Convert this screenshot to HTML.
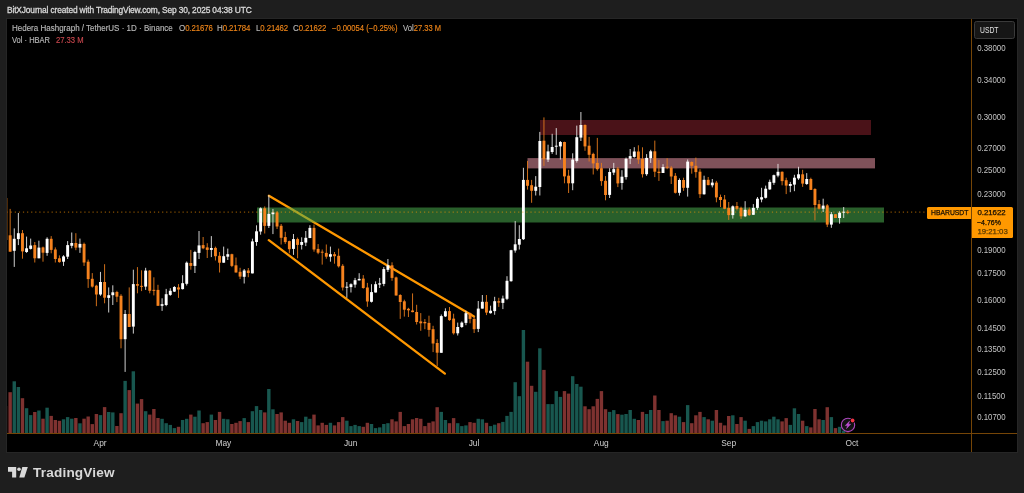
<!DOCTYPE html>
<html><head><meta charset="utf-8"><title>HBARUSDT</title>
<style>
html,body{margin:0;padding:0;}
body{width:1024px;height:493px;background:#1e1e1e;overflow:hidden;position:relative;font-family:"Liberation Sans",sans-serif;}
#hdr{will-change:transform;position:absolute;left:6.5px;top:5.1px;font-size:8.4px;line-height:11px;color:#d8d8d8;white-space:nowrap;letter-spacing:-0.14px;-webkit-text-stroke:0.3px #d8d8d8;}
#pane{will-change:transform;outline:1px solid #262626;position:absolute;left:7px;top:19px;width:1010px;height:433px;background:#000;overflow:hidden;}
#pane svg{position:absolute;left:0;top:0;}
.lg{position:absolute;font-size:8.5px;line-height:10px;white-space:nowrap;color:#b8b8b8;transform-origin:0 50%;-webkit-text-stroke:0.15px currentColor;}
.sx{display:inline-block;transform-origin:0 50%;text-indent:0;}
.lg b{font-weight:normal;color:#ee8519;font-size:8.29px;}
.lg i{font-style:normal;color:#c8474d;}
.pl{position:absolute;left:964px;width:35px;font-size:8.6px;transform:scaleX(0.915);transform-origin:6.2px 50%;line-height:12px;height:12px;color:#c4c4c4;white-space:nowrap;text-indent:6.2px;}
.ml{position:absolute;top:418px;width:30px;text-align:center;font-size:8.4px;line-height:12px;color:#cfcfcf;}
#vax{position:absolute;left:964px;top:0;width:1px;height:433px;background:#754507;}
#hax{position:absolute;left:0;top:414.2px;width:1010px;height:1px;background:#754507;}
#usdt{position:absolute;left:967.3px;top:1.5px;width:40.7px;height:18px;border:1px solid #3a3a3a;border-radius:2.5px;background:#161616;color:#e2e2e2;font-size:8.2px;line-height:17.3px;text-indent:4.7px;box-sizing:border-box;}
#sym{position:absolute;left:920.2px;top:188px;width:44.3px;height:11.5px;background:#ff9800;color:#140c00;-webkit-text-stroke:0.25px #140c00;font-size:7.9px;line-height:11.6px;text-indent:3.5px;border-radius:1.5px 0 0 1.5px;white-space:nowrap;}
#prc{position:absolute;left:964.5px;top:188px;width:41.1px;height:30.5px;background:#ff9800;color:#140c00;-webkit-text-stroke:0.25px currentColor;font-size:7.8px;line-height:9.55px;border-radius:0 1.5px 1.5px 0;box-sizing:border-box;padding:1.1px 0 0 5.9px;white-space:nowrap;}
#prc span{display:block;}
#prc .t{color:#5a3a00;}
#logo{position:absolute;left:8px;top:467px;}
#ltxt{will-change:transform;position:absolute;left:33.3px;top:463.6px;font-size:13.6px;line-height:17px;font-weight:bold;color:#d9d9d9;letter-spacing:0.18px;white-space:nowrap;}
</style></head><body>
<div id="hdr">BitXJournal created with TradingView.com, Sep 30, 2025 04:38 UTC</div>
<div id="pane">
<svg width="1010" height="433" viewBox="0 0 1010 433">
<line x1="261.9" y1="176.8" x2="467" y2="297.5" stroke="#ff9800" stroke-width="2.3" stroke-linecap="round"/>
<line x1="261.8" y1="221.1" x2="437.9" y2="354.6" stroke="#ff9800" stroke-width="2.3" stroke-linecap="round"/>
<rect x="533" y="101" width="331" height="15" fill="#4a1218"/>
<rect x="520.5" y="139.1" width="347.5" height="10.3" fill="#80525a"/>
<rect x="250" y="188.5" width="627" height="15" fill="#4caf50" fill-opacity="0.54"/>
<rect x="1.45" y="373.2" width="3.4" height="41.1" fill="#7e3230"/>
<rect x="5.56" y="362.3" width="3.4" height="52" fill="#18574f"/>
<rect x="9.66" y="368" width="3.4" height="46.3" fill="#18574f"/>
<rect x="13.77" y="379.2" width="3.4" height="35.1" fill="#7e3230"/>
<rect x="17.87" y="389.2" width="3.4" height="25.1" fill="#18574f"/>
<rect x="21.98" y="396.1" width="3.4" height="18.2" fill="#18574f"/>
<rect x="26.09" y="393" width="3.4" height="21.3" fill="#7e3230"/>
<rect x="30.19" y="391.5" width="3.4" height="22.8" fill="#18574f"/>
<rect x="34.3" y="399.7" width="3.4" height="14.6" fill="#7e3230"/>
<rect x="38.4" y="388.7" width="3.4" height="25.6" fill="#18574f"/>
<rect x="42.51" y="396.9" width="3.4" height="17.4" fill="#7e3230"/>
<rect x="46.62" y="401" width="3.4" height="13.3" fill="#7e3230"/>
<rect x="50.72" y="401.8" width="3.4" height="12.5" fill="#7e3230"/>
<rect x="54.83" y="400.3" width="3.4" height="14" fill="#18574f"/>
<rect x="58.94" y="398.1" width="3.4" height="16.2" fill="#18574f"/>
<rect x="63.04" y="399.7" width="3.4" height="14.6" fill="#18574f"/>
<rect x="67.15" y="399" width="3.4" height="15.3" fill="#7e3230"/>
<rect x="71.25" y="404.3" width="3.4" height="10" fill="#18574f"/>
<rect x="75.36" y="399.7" width="3.4" height="14.6" fill="#7e3230"/>
<rect x="79.47" y="397.5" width="3.4" height="16.8" fill="#7e3230"/>
<rect x="83.57" y="405.1" width="3.4" height="9.2" fill="#7e3230"/>
<rect x="87.68" y="395" width="3.4" height="19.3" fill="#7e3230"/>
<rect x="91.78" y="396.1" width="3.4" height="18.2" fill="#18574f"/>
<rect x="95.89" y="388.1" width="3.4" height="26.2" fill="#7e3230"/>
<rect x="100" y="393" width="3.4" height="21.3" fill="#18574f"/>
<rect x="104.1" y="393.4" width="3.4" height="20.9" fill="#18574f"/>
<rect x="108.21" y="407" width="3.4" height="7.3" fill="#7e3230"/>
<rect x="112.31" y="394.2" width="3.4" height="20.1" fill="#7e3230"/>
<rect x="116.42" y="361.9" width="3.4" height="52.4" fill="#18574f"/>
<rect x="120.53" y="371.1" width="3.4" height="43.2" fill="#7e3230"/>
<rect x="124.63" y="352.3" width="3.4" height="62" fill="#18574f"/>
<rect x="128.74" y="384.6" width="3.4" height="29.7" fill="#7e3230"/>
<rect x="132.85" y="380.1" width="3.4" height="34.2" fill="#7e3230"/>
<rect x="136.95" y="392.2" width="3.4" height="22.1" fill="#18574f"/>
<rect x="141.06" y="395.6" width="3.4" height="18.7" fill="#7e3230"/>
<rect x="145.16" y="390" width="3.4" height="24.3" fill="#7e3230"/>
<rect x="149.27" y="399" width="3.4" height="15.3" fill="#7e3230"/>
<rect x="153.38" y="399.8" width="3.4" height="14.5" fill="#18574f"/>
<rect x="157.48" y="404.2" width="3.4" height="10.1" fill="#18574f"/>
<rect x="161.59" y="405.9" width="3.4" height="8.4" fill="#18574f"/>
<rect x="165.69" y="409.1" width="3.4" height="5.2" fill="#18574f"/>
<rect x="169.8" y="407.8" width="3.4" height="6.5" fill="#7e3230"/>
<rect x="173.91" y="401" width="3.4" height="13.3" fill="#18574f"/>
<rect x="178.01" y="399.8" width="3.4" height="14.5" fill="#18574f"/>
<rect x="182.12" y="395.6" width="3.4" height="18.7" fill="#7e3230"/>
<rect x="186.22" y="397.7" width="3.4" height="16.6" fill="#18574f"/>
<rect x="190.33" y="391.5" width="3.4" height="22.8" fill="#18574f"/>
<rect x="194.44" y="404.2" width="3.4" height="10.1" fill="#7e3230"/>
<rect x="198.54" y="403.1" width="3.4" height="11.2" fill="#7e3230"/>
<rect x="202.65" y="395.6" width="3.4" height="18.7" fill="#18574f"/>
<rect x="206.75" y="401" width="3.4" height="13.3" fill="#7e3230"/>
<rect x="210.86" y="392.9" width="3.4" height="21.4" fill="#7e3230"/>
<rect x="214.97" y="399.8" width="3.4" height="14.5" fill="#18574f"/>
<rect x="219.07" y="400.3" width="3.4" height="14" fill="#18574f"/>
<rect x="223.18" y="405" width="3.4" height="9.3" fill="#7e3230"/>
<rect x="227.29" y="403.8" width="3.4" height="10.5" fill="#7e3230"/>
<rect x="231.39" y="402.1" width="3.4" height="12.2" fill="#7e3230"/>
<rect x="235.5" y="399.1" width="3.4" height="15.2" fill="#18574f"/>
<rect x="239.6" y="403.1" width="3.4" height="11.2" fill="#7e3230"/>
<rect x="243.71" y="392.2" width="3.4" height="22.1" fill="#18574f"/>
<rect x="247.82" y="387.1" width="3.4" height="27.2" fill="#18574f"/>
<rect x="251.92" y="391" width="3.4" height="23.3" fill="#18574f"/>
<rect x="256.03" y="393.4" width="3.4" height="20.9" fill="#7e3230"/>
<rect x="260.13" y="370" width="3.4" height="44.3" fill="#18574f"/>
<rect x="264.24" y="390.3" width="3.4" height="24" fill="#18574f"/>
<rect x="268.35" y="395" width="3.4" height="19.3" fill="#7e3230"/>
<rect x="272.45" y="393.4" width="3.4" height="20.9" fill="#7e3230"/>
<rect x="276.56" y="401.7" width="3.4" height="12.6" fill="#7e3230"/>
<rect x="280.66" y="403.8" width="3.4" height="10.5" fill="#7e3230"/>
<rect x="284.77" y="400.3" width="3.4" height="14" fill="#18574f"/>
<rect x="288.88" y="402" width="3.4" height="12.3" fill="#7e3230"/>
<rect x="292.98" y="403.1" width="3.4" height="11.2" fill="#18574f"/>
<rect x="297.09" y="397.7" width="3.4" height="16.6" fill="#18574f"/>
<rect x="301.2" y="399.8" width="3.4" height="14.5" fill="#18574f"/>
<rect x="305.3" y="395.6" width="3.4" height="18.7" fill="#7e3230"/>
<rect x="309.41" y="406.4" width="3.4" height="7.9" fill="#7e3230"/>
<rect x="313.51" y="403.8" width="3.4" height="10.5" fill="#7e3230"/>
<rect x="317.62" y="405.9" width="3.4" height="8.4" fill="#7e3230"/>
<rect x="321.73" y="403.8" width="3.4" height="10.5" fill="#18574f"/>
<rect x="325.83" y="406.4" width="3.4" height="7.9" fill="#7e3230"/>
<rect x="329.94" y="403.1" width="3.4" height="11.2" fill="#7e3230"/>
<rect x="334.04" y="398.1" width="3.4" height="16.2" fill="#7e3230"/>
<rect x="338.15" y="401.7" width="3.4" height="12.6" fill="#18574f"/>
<rect x="342.26" y="407.1" width="3.4" height="7.2" fill="#18574f"/>
<rect x="346.36" y="405.9" width="3.4" height="8.4" fill="#18574f"/>
<rect x="350.47" y="407.1" width="3.4" height="7.2" fill="#18574f"/>
<rect x="354.57" y="407.8" width="3.4" height="6.5" fill="#7e3230"/>
<rect x="358.68" y="403.8" width="3.4" height="10.5" fill="#7e3230"/>
<rect x="362.79" y="405" width="3.4" height="9.3" fill="#18574f"/>
<rect x="366.89" y="409.1" width="3.4" height="5.2" fill="#18574f"/>
<rect x="371" y="408.4" width="3.4" height="5.9" fill="#18574f"/>
<rect x="375.11" y="405" width="3.4" height="9.3" fill="#18574f"/>
<rect x="379.21" y="404.2" width="3.4" height="10.1" fill="#18574f"/>
<rect x="383.32" y="400.3" width="3.4" height="14" fill="#7e3230"/>
<rect x="387.42" y="402.4" width="3.4" height="11.9" fill="#7e3230"/>
<rect x="391.53" y="392.9" width="3.4" height="21.4" fill="#7e3230"/>
<rect x="395.64" y="407.1" width="3.4" height="7.2" fill="#7e3230"/>
<rect x="399.74" y="405" width="3.4" height="9.3" fill="#7e3230"/>
<rect x="403.85" y="400.3" width="3.4" height="14" fill="#7e3230"/>
<rect x="407.95" y="399" width="3.4" height="15.3" fill="#7e3230"/>
<rect x="412.06" y="399.8" width="3.4" height="14.5" fill="#7e3230"/>
<rect x="416.17" y="407.1" width="3.4" height="7.2" fill="#7e3230"/>
<rect x="420.27" y="403.8" width="3.4" height="10.5" fill="#7e3230"/>
<rect x="424.38" y="402.4" width="3.4" height="11.9" fill="#7e3230"/>
<rect x="428.48" y="388.2" width="3.4" height="26.1" fill="#7e3230"/>
<rect x="432.59" y="392.9" width="3.4" height="21.4" fill="#18574f"/>
<rect x="436.7" y="401" width="3.4" height="13.3" fill="#18574f"/>
<rect x="440.8" y="404.2" width="3.4" height="10.1" fill="#7e3230"/>
<rect x="444.91" y="399.1" width="3.4" height="15.2" fill="#7e3230"/>
<rect x="449.01" y="404.2" width="3.4" height="10.1" fill="#18574f"/>
<rect x="453.12" y="407.1" width="3.4" height="7.2" fill="#18574f"/>
<rect x="457.23" y="406.4" width="3.4" height="7.9" fill="#18574f"/>
<rect x="461.33" y="403.1" width="3.4" height="11.2" fill="#7e3230"/>
<rect x="465.44" y="403.8" width="3.4" height="10.5" fill="#7e3230"/>
<rect x="469.55" y="399.8" width="3.4" height="14.5" fill="#18574f"/>
<rect x="473.65" y="400.3" width="3.4" height="14" fill="#18574f"/>
<rect x="477.76" y="403.8" width="3.4" height="10.5" fill="#7e3230"/>
<rect x="481.86" y="407.1" width="3.4" height="7.2" fill="#18574f"/>
<rect x="485.97" y="405.7" width="3.4" height="8.6" fill="#18574f"/>
<rect x="490.08" y="404.2" width="3.4" height="10.1" fill="#7e3230"/>
<rect x="494.18" y="402.9" width="3.4" height="11.4" fill="#18574f"/>
<rect x="498.29" y="396.9" width="3.4" height="17.4" fill="#18574f"/>
<rect x="502.39" y="392.9" width="3.4" height="21.4" fill="#18574f"/>
<rect x="506.5" y="363.2" width="3.4" height="51.1" fill="#18574f"/>
<rect x="510.61" y="377.2" width="3.4" height="37.1" fill="#18574f"/>
<rect x="514.71" y="311" width="3.4" height="103.3" fill="#18574f"/>
<rect x="518.82" y="342.7" width="3.4" height="71.6" fill="#7e3230"/>
<rect x="522.92" y="366.8" width="3.4" height="47.5" fill="#7e3230"/>
<rect x="527.03" y="372.8" width="3.4" height="41.5" fill="#18574f"/>
<rect x="531.14" y="329.3" width="3.4" height="85" fill="#18574f"/>
<rect x="535.24" y="350.9" width="3.4" height="63.4" fill="#7e3230"/>
<rect x="539.35" y="385.1" width="3.4" height="29.2" fill="#18574f"/>
<rect x="543.46" y="385.1" width="3.4" height="29.2" fill="#18574f"/>
<rect x="547.56" y="372.1" width="3.4" height="42.2" fill="#18574f"/>
<rect x="551.67" y="377.9" width="3.4" height="36.4" fill="#18574f"/>
<rect x="555.77" y="372.1" width="3.4" height="42.2" fill="#7e3230"/>
<rect x="559.88" y="374.6" width="3.4" height="39.7" fill="#7e3230"/>
<rect x="563.99" y="357.2" width="3.4" height="57.1" fill="#18574f"/>
<rect x="568.09" y="365" width="3.4" height="49.3" fill="#18574f"/>
<rect x="572.2" y="367.7" width="3.4" height="46.6" fill="#18574f"/>
<rect x="576.3" y="387.3" width="3.4" height="27" fill="#7e3230"/>
<rect x="580.41" y="390.2" width="3.4" height="24.1" fill="#7e3230"/>
<rect x="584.52" y="387.3" width="3.4" height="27" fill="#7e3230"/>
<rect x="588.62" y="379.9" width="3.4" height="34.4" fill="#7e3230"/>
<rect x="592.73" y="372.1" width="3.4" height="42.2" fill="#7e3230"/>
<rect x="596.83" y="390.2" width="3.4" height="24.1" fill="#7e3230"/>
<rect x="600.94" y="392.9" width="3.4" height="21.4" fill="#18574f"/>
<rect x="605.05" y="391.1" width="3.4" height="23.2" fill="#18574f"/>
<rect x="609.15" y="395.1" width="3.4" height="19.2" fill="#7e3230"/>
<rect x="613.26" y="395.7" width="3.4" height="18.6" fill="#18574f"/>
<rect x="617.36" y="395" width="3.4" height="19.3" fill="#18574f"/>
<rect x="621.47" y="391" width="3.4" height="23.3" fill="#18574f"/>
<rect x="625.58" y="399.8" width="3.4" height="14.5" fill="#18574f"/>
<rect x="629.68" y="401" width="3.4" height="13.3" fill="#7e3230"/>
<rect x="633.79" y="392.9" width="3.4" height="21.4" fill="#7e3230"/>
<rect x="637.9" y="395" width="3.4" height="19.3" fill="#18574f"/>
<rect x="642" y="391" width="3.4" height="23.3" fill="#18574f"/>
<rect x="646.11" y="376.5" width="3.4" height="37.8" fill="#7e3230"/>
<rect x="650.21" y="391" width="3.4" height="23.3" fill="#7e3230"/>
<rect x="654.32" y="402.1" width="3.4" height="12.2" fill="#18574f"/>
<rect x="658.43" y="401.7" width="3.4" height="12.6" fill="#7e3230"/>
<rect x="662.53" y="394.2" width="3.4" height="20.1" fill="#7e3230"/>
<rect x="666.64" y="396.3" width="3.4" height="18" fill="#7e3230"/>
<rect x="670.74" y="397.7" width="3.4" height="16.6" fill="#18574f"/>
<rect x="674.85" y="403.1" width="3.4" height="11.2" fill="#7e3230"/>
<rect x="678.96" y="386.1" width="3.4" height="28.2" fill="#18574f"/>
<rect x="683.06" y="404.2" width="3.4" height="10.1" fill="#7e3230"/>
<rect x="687.17" y="396.3" width="3.4" height="18" fill="#7e3230"/>
<rect x="691.27" y="392.9" width="3.4" height="21.4" fill="#7e3230"/>
<rect x="695.38" y="398.1" width="3.4" height="16.2" fill="#18574f"/>
<rect x="699.49" y="400.3" width="3.4" height="14" fill="#7e3230"/>
<rect x="703.59" y="401.7" width="3.4" height="12.6" fill="#18574f"/>
<rect x="707.7" y="391" width="3.4" height="23.3" fill="#7e3230"/>
<rect x="711.81" y="403.8" width="3.4" height="10.5" fill="#7e3230"/>
<rect x="715.91" y="406.4" width="3.4" height="7.9" fill="#7e3230"/>
<rect x="720.02" y="397" width="3.4" height="17.3" fill="#7e3230"/>
<rect x="724.12" y="396.3" width="3.4" height="18" fill="#18574f"/>
<rect x="728.23" y="405" width="3.4" height="9.3" fill="#7e3230"/>
<rect x="732.34" y="398.1" width="3.4" height="16.2" fill="#7e3230"/>
<rect x="736.44" y="401.7" width="3.4" height="12.6" fill="#18574f"/>
<rect x="740.55" y="409.9" width="3.4" height="4.4" fill="#7e3230"/>
<rect x="744.65" y="407.1" width="3.4" height="7.2" fill="#18574f"/>
<rect x="748.76" y="403.1" width="3.4" height="11.2" fill="#18574f"/>
<rect x="752.87" y="401.7" width="3.4" height="12.6" fill="#18574f"/>
<rect x="756.97" y="402.4" width="3.4" height="11.9" fill="#18574f"/>
<rect x="761.08" y="400.3" width="3.4" height="14" fill="#18574f"/>
<rect x="765.18" y="397.7" width="3.4" height="16.6" fill="#18574f"/>
<rect x="769.29" y="400.3" width="3.4" height="14" fill="#18574f"/>
<rect x="773.4" y="402.4" width="3.4" height="11.9" fill="#7e3230"/>
<rect x="777.5" y="399.1" width="3.4" height="15.2" fill="#7e3230"/>
<rect x="781.61" y="405.9" width="3.4" height="8.4" fill="#18574f"/>
<rect x="785.72" y="389.3" width="3.4" height="25" fill="#18574f"/>
<rect x="789.82" y="395" width="3.4" height="19.3" fill="#18574f"/>
<rect x="793.93" y="401.7" width="3.4" height="12.6" fill="#7e3230"/>
<rect x="798.03" y="407.1" width="3.4" height="7.2" fill="#18574f"/>
<rect x="802.14" y="408.4" width="3.4" height="5.9" fill="#7e3230"/>
<rect x="806.25" y="390" width="3.4" height="24.3" fill="#7e3230"/>
<rect x="810.35" y="400.3" width="3.4" height="14" fill="#7e3230"/>
<rect x="814.46" y="401" width="3.4" height="13.3" fill="#18574f"/>
<rect x="818.56" y="388.2" width="3.4" height="26.1" fill="#7e3230"/>
<rect x="822.67" y="398.1" width="3.4" height="16.2" fill="#18574f"/>
<rect x="826.78" y="409.1" width="3.4" height="5.2" fill="#7e3230"/>
<rect x="830.88" y="407.8" width="3.4" height="6.5" fill="#18574f"/>
<rect x="834.99" y="411.6" width="3.4" height="2.7" fill="#18574f"/>
<rect x="839.09" y="413.5" width="3.4" height="0.8" fill="#7e3230"/>
<rect x="-3.1" y="387" width="3.4" height="27.3" fill="#7e3230" opacity="0.6"/>
<line x1="3.15" y1="189.9" x2="3.15" y2="232.7" stroke="#e57a1c" stroke-width="0.9"/>
<rect x="1.7" y="216.3" width="2.9" height="16.4" fill="#f5821e"/>
<line x1="7.26" y1="209.4" x2="7.26" y2="247.9" stroke="#e6e6e6" stroke-width="0.9"/>
<rect x="5.81" y="219.8" width="2.9" height="12" fill="#ffffff"/>
<line x1="11.36" y1="194" x2="11.36" y2="226.1" stroke="#e6e6e6" stroke-width="0.9"/>
<rect x="9.91" y="214.2" width="2.9" height="5.9" fill="#ffffff"/>
<line x1="15.47" y1="211" x2="15.47" y2="239.7" stroke="#e57a1c" stroke-width="0.9"/>
<rect x="14.02" y="214.2" width="2.9" height="18.2" fill="#f5821e"/>
<line x1="19.57" y1="217.6" x2="19.57" y2="233.9" stroke="#e6e6e6" stroke-width="0.9"/>
<rect x="18.12" y="229.3" width="2.9" height="3.7" fill="#ffffff"/>
<line x1="23.68" y1="219.6" x2="23.68" y2="230.5" stroke="#e6e6e6" stroke-width="0.9"/>
<rect x="22.23" y="226.5" width="2.9" height="3.4" fill="#ffffff"/>
<line x1="27.79" y1="223" x2="27.79" y2="243.5" stroke="#e57a1c" stroke-width="0.9"/>
<rect x="26.34" y="226.1" width="2.9" height="13.2" fill="#f5821e"/>
<line x1="31.89" y1="221.7" x2="31.89" y2="239.3" stroke="#e6e6e6" stroke-width="0.9"/>
<rect x="30.44" y="228.6" width="2.9" height="10.7" fill="#ffffff"/>
<line x1="36" y1="227.6" x2="36" y2="242.7" stroke="#e57a1c" stroke-width="0.9"/>
<rect x="34.55" y="228.4" width="2.9" height="5.3" fill="#f5821e"/>
<line x1="40.1" y1="218.3" x2="40.1" y2="236.8" stroke="#e6e6e6" stroke-width="0.9"/>
<rect x="38.65" y="219.8" width="2.9" height="14.1" fill="#ffffff"/>
<line x1="44.21" y1="217.1" x2="44.21" y2="234.3" stroke="#e57a1c" stroke-width="0.9"/>
<rect x="42.76" y="219.8" width="2.9" height="11.1" fill="#f5821e"/>
<line x1="48.32" y1="228.4" x2="48.32" y2="243.5" stroke="#e57a1c" stroke-width="0.9"/>
<rect x="46.87" y="230.5" width="2.9" height="9.5" fill="#f5821e"/>
<line x1="52.42" y1="236.4" x2="52.42" y2="243.7" stroke="#e57a1c" stroke-width="0.9"/>
<rect x="50.97" y="239.3" width="2.9" height="3.8" fill="#f5821e"/>
<line x1="56.53" y1="236.2" x2="56.53" y2="246.9" stroke="#e6e6e6" stroke-width="0.9"/>
<rect x="55.08" y="237.4" width="2.9" height="5.3" fill="#ffffff"/>
<line x1="60.64" y1="222.1" x2="60.64" y2="240" stroke="#e6e6e6" stroke-width="0.9"/>
<rect x="59.19" y="226.1" width="2.9" height="11.6" fill="#ffffff"/>
<line x1="64.74" y1="213.5" x2="64.74" y2="229.3" stroke="#e6e6e6" stroke-width="0.9"/>
<rect x="63.29" y="224" width="2.9" height="2.8" fill="#ffffff"/>
<line x1="68.85" y1="214.2" x2="68.85" y2="231.2" stroke="#e57a1c" stroke-width="0.9"/>
<rect x="67.4" y="224" width="2.9" height="4.6" fill="#f5821e"/>
<line x1="72.95" y1="219.6" x2="72.95" y2="233.9" stroke="#e6e6e6" stroke-width="0.9"/>
<rect x="71.5" y="224.9" width="2.9" height="3.7" fill="#ffffff"/>
<line x1="77.06" y1="223.6" x2="77.06" y2="246.9" stroke="#e57a1c" stroke-width="0.9"/>
<rect x="75.61" y="224.9" width="2.9" height="18.6" fill="#f5821e"/>
<line x1="81.17" y1="240.6" x2="81.17" y2="268.9" stroke="#e57a1c" stroke-width="0.9"/>
<rect x="79.72" y="242.7" width="2.9" height="17.4" fill="#f5821e"/>
<line x1="85.27" y1="254.1" x2="85.27" y2="268.6" stroke="#e57a1c" stroke-width="0.9"/>
<rect x="83.82" y="259.8" width="2.9" height="7.8" fill="#f5821e"/>
<line x1="89.38" y1="265.8" x2="89.38" y2="287.2" stroke="#e57a1c" stroke-width="0.9"/>
<rect x="87.93" y="266.7" width="2.9" height="8.8" fill="#f5821e"/>
<line x1="93.48" y1="252.9" x2="93.48" y2="276.8" stroke="#e6e6e6" stroke-width="0.9"/>
<rect x="92.03" y="263" width="2.9" height="12.5" fill="#ffffff"/>
<line x1="97.59" y1="245.2" x2="97.59" y2="284.3" stroke="#e57a1c" stroke-width="0.9"/>
<rect x="96.14" y="263" width="2.9" height="15.7" fill="#f5821e"/>
<line x1="101.7" y1="268.4" x2="101.7" y2="293.5" stroke="#e6e6e6" stroke-width="0.9"/>
<rect x="100.25" y="276.2" width="2.9" height="2.7" fill="#ffffff"/>
<line x1="105.8" y1="266.3" x2="105.8" y2="286" stroke="#e6e6e6" stroke-width="0.9"/>
<rect x="104.35" y="273.3" width="2.9" height="2.9" fill="#ffffff"/>
<line x1="109.91" y1="271.8" x2="109.91" y2="283.1" stroke="#e57a1c" stroke-width="0.9"/>
<rect x="108.46" y="273" width="2.9" height="4.7" fill="#f5821e"/>
<line x1="114.01" y1="275.2" x2="114.01" y2="329.3" stroke="#e57a1c" stroke-width="0.9"/>
<rect x="112.56" y="276.8" width="2.9" height="43.4" fill="#f5821e"/>
<line x1="118.12" y1="291" x2="118.12" y2="352.9" stroke="#e6e6e6" stroke-width="0.9"/>
<rect x="116.67" y="295" width="2.9" height="25.2" fill="#ffffff"/>
<line x1="122.23" y1="268.4" x2="122.23" y2="308" stroke="#e57a1c" stroke-width="0.9"/>
<rect x="120.78" y="295" width="2.9" height="13" fill="#f5821e"/>
<line x1="126.33" y1="250.7" x2="126.33" y2="314.6" stroke="#e6e6e6" stroke-width="0.9"/>
<rect x="124.88" y="265.1" width="2.9" height="42.5" fill="#ffffff"/>
<line x1="130.44" y1="248.1" x2="130.44" y2="274.3" stroke="#e57a1c" stroke-width="0.9"/>
<rect x="128.99" y="265.1" width="2.9" height="1.6" fill="#f5821e"/>
<line x1="134.55" y1="251.3" x2="134.55" y2="272.1" stroke="#e57a1c" stroke-width="0.9"/>
<rect x="133.1" y="266.85" width="2.9" height="1" fill="#f5821e"/>
<line x1="138.65" y1="248.8" x2="138.65" y2="270.9" stroke="#e6e6e6" stroke-width="0.9"/>
<rect x="137.2" y="251.6" width="2.9" height="16" fill="#ffffff"/>
<line x1="142.76" y1="251" x2="142.76" y2="274.3" stroke="#e57a1c" stroke-width="0.9"/>
<rect x="141.31" y="251.6" width="2.9" height="20.2" fill="#f5821e"/>
<line x1="146.86" y1="258.3" x2="146.86" y2="276.4" stroke="#e57a1c" stroke-width="0.9"/>
<rect x="145.41" y="270.85" width="2.9" height="1" fill="#f5821e"/>
<line x1="150.97" y1="265.8" x2="150.97" y2="286.8" stroke="#e57a1c" stroke-width="0.9"/>
<rect x="149.52" y="270.9" width="2.9" height="15.9" fill="#f5821e"/>
<line x1="155.08" y1="279.3" x2="155.08" y2="291.9" stroke="#e6e6e6" stroke-width="0.9"/>
<rect x="153.63" y="285.2" width="2.9" height="1.6" fill="#ffffff"/>
<line x1="159.18" y1="269.9" x2="159.18" y2="287.2" stroke="#e6e6e6" stroke-width="0.9"/>
<rect x="157.73" y="275.2" width="2.9" height="10.8" fill="#ffffff"/>
<line x1="163.29" y1="269.2" x2="163.29" y2="276.8" stroke="#e6e6e6" stroke-width="0.9"/>
<rect x="161.84" y="271.8" width="2.9" height="4.1" fill="#ffffff"/>
<line x1="167.39" y1="267.1" x2="167.39" y2="273" stroke="#e6e6e6" stroke-width="0.9"/>
<rect x="165.94" y="268" width="2.9" height="4.6" fill="#ffffff"/>
<line x1="171.5" y1="265.1" x2="171.5" y2="278.9" stroke="#e57a1c" stroke-width="0.9"/>
<rect x="170.05" y="268.4" width="2.9" height="2.1" fill="#f5821e"/>
<line x1="175.61" y1="256.2" x2="175.61" y2="270.5" stroke="#e6e6e6" stroke-width="0.9"/>
<rect x="174.16" y="264.2" width="2.9" height="5.9" fill="#ffffff"/>
<line x1="179.71" y1="242.5" x2="179.71" y2="266.5" stroke="#e6e6e6" stroke-width="0.9"/>
<rect x="178.26" y="243.7" width="2.9" height="21.1" fill="#ffffff"/>
<line x1="183.82" y1="230.9" x2="183.82" y2="250.7" stroke="#e57a1c" stroke-width="0.9"/>
<rect x="182.37" y="244" width="2.9" height="2.9" fill="#f5821e"/>
<line x1="187.92" y1="231.8" x2="187.92" y2="254" stroke="#e6e6e6" stroke-width="0.9"/>
<rect x="186.47" y="233" width="2.9" height="13.9" fill="#ffffff"/>
<line x1="192.03" y1="212" x2="192.03" y2="240" stroke="#e6e6e6" stroke-width="0.9"/>
<rect x="190.58" y="226.4" width="2.9" height="7.5" fill="#ffffff"/>
<line x1="196.14" y1="218" x2="196.14" y2="230.2" stroke="#e57a1c" stroke-width="0.9"/>
<rect x="194.69" y="226.1" width="2.9" height="3.2" fill="#f5821e"/>
<line x1="200.24" y1="224.2" x2="200.24" y2="239" stroke="#e57a1c" stroke-width="0.9"/>
<rect x="198.79" y="228.4" width="2.9" height="2.5" fill="#f5821e"/>
<line x1="204.35" y1="217.1" x2="204.35" y2="238.1" stroke="#e6e6e6" stroke-width="0.9"/>
<rect x="202.9" y="229" width="2.9" height="1.9" fill="#ffffff"/>
<line x1="208.45" y1="227.6" x2="208.45" y2="241.5" stroke="#e57a1c" stroke-width="0.9"/>
<rect x="207" y="228.9" width="2.9" height="8.3" fill="#f5821e"/>
<line x1="212.56" y1="233" x2="212.56" y2="253.5" stroke="#e57a1c" stroke-width="0.9"/>
<rect x="211.11" y="236.8" width="2.9" height="6.9" fill="#f5821e"/>
<line x1="216.67" y1="227.6" x2="216.67" y2="243.7" stroke="#e6e6e6" stroke-width="0.9"/>
<rect x="215.22" y="237.2" width="2.9" height="6.5" fill="#ffffff"/>
<line x1="220.77" y1="229.6" x2="220.77" y2="241" stroke="#e6e6e6" stroke-width="0.9"/>
<rect x="219.32" y="235.2" width="2.9" height="2.5" fill="#ffffff"/>
<line x1="224.88" y1="234.7" x2="224.88" y2="248.1" stroke="#e57a1c" stroke-width="0.9"/>
<rect x="223.43" y="235.2" width="2.9" height="11.7" fill="#f5821e"/>
<line x1="228.99" y1="238.5" x2="228.99" y2="253.5" stroke="#e57a1c" stroke-width="0.9"/>
<rect x="227.54" y="246.3" width="2.9" height="7.2" fill="#f5821e"/>
<line x1="233.09" y1="248.8" x2="233.09" y2="260.1" stroke="#e57a1c" stroke-width="0.9"/>
<rect x="231.64" y="252.8" width="2.9" height="4.8" fill="#f5821e"/>
<line x1="237.2" y1="250" x2="237.2" y2="264.5" stroke="#e6e6e6" stroke-width="0.9"/>
<rect x="235.75" y="251.5" width="2.9" height="6.3" fill="#ffffff"/>
<line x1="241.3" y1="249" x2="241.3" y2="258.2" stroke="#e57a1c" stroke-width="0.9"/>
<rect x="239.85" y="251.5" width="2.9" height="2.5" fill="#f5821e"/>
<line x1="245.41" y1="219.7" x2="245.41" y2="254.4" stroke="#e6e6e6" stroke-width="0.9"/>
<rect x="243.96" y="222.4" width="2.9" height="32" fill="#ffffff"/>
<line x1="249.52" y1="206.3" x2="249.52" y2="226.8" stroke="#e6e6e6" stroke-width="0.9"/>
<rect x="248.07" y="212.3" width="2.9" height="10.7" fill="#ffffff"/>
<line x1="253.62" y1="188.4" x2="253.62" y2="215.7" stroke="#e6e6e6" stroke-width="0.9"/>
<rect x="252.17" y="189.3" width="2.9" height="23.2" fill="#ffffff"/>
<line x1="257.73" y1="187.4" x2="257.73" y2="214.5" stroke="#e57a1c" stroke-width="0.9"/>
<rect x="256.28" y="189.3" width="2.9" height="17.6" fill="#f5821e"/>
<line x1="261.83" y1="176.1" x2="261.83" y2="209" stroke="#e6e6e6" stroke-width="0.9"/>
<rect x="260.38" y="194.9" width="2.9" height="12" fill="#ffffff"/>
<line x1="265.94" y1="189.9" x2="265.94" y2="215.1" stroke="#e6e6e6" stroke-width="0.9"/>
<rect x="264.49" y="193.4" width="2.9" height="1.8" fill="#ffffff"/>
<line x1="270.05" y1="192.2" x2="270.05" y2="210" stroke="#e57a1c" stroke-width="0.9"/>
<rect x="268.6" y="193.4" width="2.9" height="14.1" fill="#f5821e"/>
<line x1="274.15" y1="205" x2="274.15" y2="225.5" stroke="#e57a1c" stroke-width="0.9"/>
<rect x="272.7" y="206.8" width="2.9" height="12" fill="#f5821e"/>
<line x1="278.26" y1="212.8" x2="278.26" y2="224.9" stroke="#e57a1c" stroke-width="0.9"/>
<rect x="276.81" y="218.1" width="2.9" height="5" fill="#f5821e"/>
<line x1="282.36" y1="221.7" x2="282.36" y2="234.3" stroke="#e57a1c" stroke-width="0.9"/>
<rect x="280.91" y="222.1" width="2.9" height="8.1" fill="#f5821e"/>
<line x1="286.47" y1="215" x2="286.47" y2="235.9" stroke="#e6e6e6" stroke-width="0.9"/>
<rect x="285.02" y="220.1" width="2.9" height="9.8" fill="#ffffff"/>
<line x1="290.58" y1="218.6" x2="290.58" y2="239.3" stroke="#e57a1c" stroke-width="0.9"/>
<rect x="289.13" y="220.1" width="2.9" height="5.8" fill="#f5821e"/>
<line x1="294.68" y1="218.3" x2="294.68" y2="230.5" stroke="#e6e6e6" stroke-width="0.9"/>
<rect x="293.23" y="223" width="2.9" height="2.9" fill="#ffffff"/>
<line x1="298.79" y1="212" x2="298.79" y2="227.1" stroke="#e6e6e6" stroke-width="0.9"/>
<rect x="297.34" y="218.8" width="2.9" height="4.8" fill="#ffffff"/>
<line x1="302.9" y1="206.2" x2="302.9" y2="219.2" stroke="#e6e6e6" stroke-width="0.9"/>
<rect x="301.45" y="208.9" width="2.9" height="10.1" fill="#ffffff"/>
<line x1="307" y1="205.5" x2="307" y2="232.7" stroke="#e57a1c" stroke-width="0.9"/>
<rect x="305.55" y="208.9" width="2.9" height="21.6" fill="#f5821e"/>
<line x1="311.11" y1="225.1" x2="311.11" y2="235.2" stroke="#e57a1c" stroke-width="0.9"/>
<rect x="309.66" y="229.9" width="2.9" height="3.8" fill="#f5821e"/>
<line x1="315.21" y1="230.5" x2="315.21" y2="245.6" stroke="#e57a1c" stroke-width="0.9"/>
<rect x="313.76" y="232.7" width="2.9" height="1" fill="#f5821e"/>
<line x1="319.32" y1="225.5" x2="319.32" y2="239.7" stroke="#e57a1c" stroke-width="0.9"/>
<rect x="317.87" y="233.9" width="2.9" height="3.8" fill="#f5821e"/>
<line x1="323.43" y1="227.6" x2="323.43" y2="242.7" stroke="#e6e6e6" stroke-width="0.9"/>
<rect x="321.98" y="235.2" width="2.9" height="2.5" fill="#ffffff"/>
<line x1="327.53" y1="233" x2="327.53" y2="244.7" stroke="#e57a1c" stroke-width="0.9"/>
<rect x="326.08" y="235.2" width="2.9" height="2" fill="#f5821e"/>
<line x1="331.64" y1="229.6" x2="331.64" y2="248.5" stroke="#e57a1c" stroke-width="0.9"/>
<rect x="330.19" y="236.8" width="2.9" height="10.5" fill="#f5821e"/>
<line x1="335.74" y1="245.1" x2="335.74" y2="271.5" stroke="#e57a1c" stroke-width="0.9"/>
<rect x="334.29" y="246.8" width="2.9" height="21.7" fill="#f5821e"/>
<line x1="339.85" y1="263" x2="339.85" y2="278.8" stroke="#e6e6e6" stroke-width="0.9"/>
<rect x="338.4" y="267.7" width="2.9" height="1" fill="#ffffff"/>
<line x1="343.96" y1="264.3" x2="343.96" y2="273.5" stroke="#e6e6e6" stroke-width="0.9"/>
<rect x="342.51" y="265.2" width="2.9" height="2.9" fill="#ffffff"/>
<line x1="348.06" y1="258.9" x2="348.06" y2="268.7" stroke="#e6e6e6" stroke-width="0.9"/>
<rect x="346.61" y="261.2" width="2.9" height="4.4" fill="#ffffff"/>
<line x1="352.17" y1="254.2" x2="352.17" y2="261.4" stroke="#e6e6e6" stroke-width="0.9"/>
<rect x="350.72" y="259.9" width="2.9" height="1.5" fill="#ffffff"/>
<line x1="356.27" y1="256.1" x2="356.27" y2="269.7" stroke="#e57a1c" stroke-width="0.9"/>
<rect x="354.82" y="259.6" width="2.9" height="9.4" fill="#f5821e"/>
<line x1="360.38" y1="263.9" x2="360.38" y2="287.8" stroke="#e57a1c" stroke-width="0.9"/>
<rect x="358.93" y="268.5" width="2.9" height="14" fill="#f5821e"/>
<line x1="364.49" y1="265.2" x2="364.49" y2="283.5" stroke="#e6e6e6" stroke-width="0.9"/>
<rect x="363.04" y="273.1" width="2.9" height="9.7" fill="#ffffff"/>
<line x1="368.59" y1="262.4" x2="368.59" y2="273.5" stroke="#e6e6e6" stroke-width="0.9"/>
<rect x="367.14" y="265.2" width="2.9" height="8.3" fill="#ffffff"/>
<line x1="372.7" y1="258.9" x2="372.7" y2="269" stroke="#e6e6e6" stroke-width="0.9"/>
<rect x="371.25" y="264.3" width="2.9" height="1.3" fill="#ffffff"/>
<line x1="376.81" y1="248" x2="376.81" y2="267.2" stroke="#e6e6e6" stroke-width="0.9"/>
<rect x="375.36" y="250.1" width="2.9" height="14.8" fill="#ffffff"/>
<line x1="380.91" y1="240" x2="380.91" y2="253" stroke="#e6e6e6" stroke-width="0.9"/>
<rect x="379.46" y="246.3" width="2.9" height="4.5" fill="#ffffff"/>
<line x1="385.02" y1="243.3" x2="385.02" y2="261.8" stroke="#e57a1c" stroke-width="0.9"/>
<rect x="383.57" y="246.3" width="2.9" height="12.6" fill="#f5821e"/>
<line x1="389.12" y1="257.6" x2="389.12" y2="276.5" stroke="#e57a1c" stroke-width="0.9"/>
<rect x="387.67" y="258.4" width="2.9" height="18.1" fill="#f5821e"/>
<line x1="393.23" y1="275.2" x2="393.23" y2="299.9" stroke="#e57a1c" stroke-width="0.9"/>
<rect x="391.78" y="276" width="2.9" height="7" fill="#f5821e"/>
<line x1="397.34" y1="280.7" x2="397.34" y2="297.6" stroke="#e57a1c" stroke-width="0.9"/>
<rect x="395.89" y="282.3" width="2.9" height="8.4" fill="#f5821e"/>
<line x1="401.44" y1="288.8" x2="401.44" y2="298" stroke="#e57a1c" stroke-width="0.9"/>
<rect x="399.99" y="289.8" width="2.9" height="1.5" fill="#f5821e"/>
<line x1="405.55" y1="274.4" x2="405.55" y2="293.3" stroke="#e57a1c" stroke-width="0.9"/>
<rect x="404.1" y="291.5" width="2.9" height="1.6" fill="#f5821e"/>
<line x1="409.65" y1="285.8" x2="409.65" y2="305.5" stroke="#e57a1c" stroke-width="0.9"/>
<rect x="408.2" y="293" width="2.9" height="10" fill="#f5821e"/>
<line x1="413.76" y1="294.1" x2="413.76" y2="311.8" stroke="#e57a1c" stroke-width="0.9"/>
<rect x="412.31" y="302.4" width="2.9" height="1.9" fill="#f5821e"/>
<line x1="417.87" y1="300.1" x2="417.87" y2="310.2" stroke="#e57a1c" stroke-width="0.9"/>
<rect x="416.42" y="303" width="2.9" height="1.3" fill="#f5821e"/>
<line x1="421.97" y1="296.7" x2="421.97" y2="317.7" stroke="#e57a1c" stroke-width="0.9"/>
<rect x="420.52" y="303.9" width="2.9" height="7" fill="#f5821e"/>
<line x1="426.08" y1="306.8" x2="426.08" y2="333.1" stroke="#e57a1c" stroke-width="0.9"/>
<rect x="424.63" y="310.2" width="2.9" height="14.3" fill="#f5821e"/>
<line x1="430.18" y1="320.2" x2="430.18" y2="347.2" stroke="#e57a1c" stroke-width="0.9"/>
<rect x="428.73" y="324" width="2.9" height="9.7" fill="#f5821e"/>
<line x1="434.29" y1="295.5" x2="434.29" y2="333.8" stroke="#e6e6e6" stroke-width="0.9"/>
<rect x="432.84" y="297.1" width="2.9" height="36.7" fill="#ffffff"/>
<line x1="438.4" y1="289.3" x2="438.4" y2="298" stroke="#e6e6e6" stroke-width="0.9"/>
<rect x="436.95" y="292.2" width="2.9" height="5.2" fill="#ffffff"/>
<line x1="442.5" y1="288" x2="442.5" y2="301.8" stroke="#e57a1c" stroke-width="0.9"/>
<rect x="441.05" y="292.1" width="2.9" height="9" fill="#f5821e"/>
<line x1="446.61" y1="294.7" x2="446.61" y2="315.6" stroke="#e57a1c" stroke-width="0.9"/>
<rect x="445.16" y="299.6" width="2.9" height="14.7" fill="#f5821e"/>
<line x1="450.71" y1="303.6" x2="450.71" y2="316.5" stroke="#e6e6e6" stroke-width="0.9"/>
<rect x="449.26" y="308" width="2.9" height="6.3" fill="#ffffff"/>
<line x1="454.82" y1="302.4" x2="454.82" y2="308.9" stroke="#e6e6e6" stroke-width="0.9"/>
<rect x="453.37" y="303.6" width="2.9" height="4.4" fill="#ffffff"/>
<line x1="458.93" y1="291.7" x2="458.93" y2="306.2" stroke="#e6e6e6" stroke-width="0.9"/>
<rect x="457.48" y="294.2" width="2.9" height="9.7" fill="#ffffff"/>
<line x1="463.03" y1="293.6" x2="463.03" y2="304.3" stroke="#e57a1c" stroke-width="0.9"/>
<rect x="461.58" y="294.2" width="2.9" height="5.7" fill="#f5821e"/>
<line x1="467.14" y1="297.4" x2="467.14" y2="314" stroke="#e57a1c" stroke-width="0.9"/>
<rect x="465.69" y="299.9" width="2.9" height="10.3" fill="#f5821e"/>
<line x1="471.25" y1="282" x2="471.25" y2="313.1" stroke="#e6e6e6" stroke-width="0.9"/>
<rect x="469.8" y="289.6" width="2.9" height="20.3" fill="#ffffff"/>
<line x1="475.35" y1="276" x2="475.35" y2="289.6" stroke="#e6e6e6" stroke-width="0.9"/>
<rect x="473.9" y="282.8" width="2.9" height="6.8" fill="#ffffff"/>
<line x1="479.46" y1="276" x2="479.46" y2="296.1" stroke="#e57a1c" stroke-width="0.9"/>
<rect x="478.01" y="282.8" width="2.9" height="10.8" fill="#f5821e"/>
<line x1="483.56" y1="286.7" x2="483.56" y2="294.6" stroke="#e6e6e6" stroke-width="0.9"/>
<rect x="482.11" y="291.7" width="2.9" height="2.5" fill="#ffffff"/>
<line x1="487.67" y1="277.8" x2="487.67" y2="295.8" stroke="#e6e6e6" stroke-width="0.9"/>
<rect x="486.22" y="282.2" width="2.9" height="9.9" fill="#ffffff"/>
<line x1="491.78" y1="278.8" x2="491.78" y2="287.9" stroke="#e57a1c" stroke-width="0.9"/>
<rect x="490.33" y="282.2" width="2.9" height="1.4" fill="#f5821e"/>
<line x1="495.88" y1="276.6" x2="495.88" y2="290.1" stroke="#e6e6e6" stroke-width="0.9"/>
<rect x="494.43" y="279.5" width="2.9" height="4.4" fill="#ffffff"/>
<line x1="499.99" y1="257.2" x2="499.99" y2="281.1" stroke="#e6e6e6" stroke-width="0.9"/>
<rect x="498.54" y="261.8" width="2.9" height="18" fill="#ffffff"/>
<line x1="504.09" y1="230.8" x2="504.09" y2="262.7" stroke="#e6e6e6" stroke-width="0.9"/>
<rect x="502.64" y="231.2" width="2.9" height="31" fill="#ffffff"/>
<line x1="508.2" y1="202.1" x2="508.2" y2="233.7" stroke="#e6e6e6" stroke-width="0.9"/>
<rect x="506.75" y="225.3" width="2.9" height="6.2" fill="#ffffff"/>
<line x1="512.31" y1="206.2" x2="512.31" y2="230.5" stroke="#e6e6e6" stroke-width="0.9"/>
<rect x="510.86" y="220" width="2.9" height="5.7" fill="#ffffff"/>
<line x1="516.41" y1="148.8" x2="516.41" y2="221" stroke="#e6e6e6" stroke-width="0.9"/>
<rect x="514.96" y="160.9" width="2.9" height="59.3" fill="#ffffff"/>
<line x1="520.52" y1="141.9" x2="520.52" y2="170.6" stroke="#e57a1c" stroke-width="0.9"/>
<rect x="519.07" y="160.9" width="2.9" height="5.9" fill="#f5821e"/>
<line x1="524.62" y1="160.9" x2="524.62" y2="183.8" stroke="#e57a1c" stroke-width="0.9"/>
<rect x="523.17" y="166.2" width="2.9" height="5.6" fill="#f5821e"/>
<line x1="528.73" y1="157.1" x2="528.73" y2="176.5" stroke="#e6e6e6" stroke-width="0.9"/>
<rect x="527.28" y="167.7" width="2.9" height="4.1" fill="#ffffff"/>
<line x1="532.84" y1="112.9" x2="532.84" y2="176.5" stroke="#e6e6e6" stroke-width="0.9"/>
<rect x="531.39" y="122" width="2.9" height="46" fill="#ffffff"/>
<line x1="536.94" y1="98.4" x2="536.94" y2="146.9" stroke="#e57a1c" stroke-width="0.9"/>
<rect x="535.49" y="121.7" width="2.9" height="18.6" fill="#f5821e"/>
<line x1="541.05" y1="125.7" x2="541.05" y2="143" stroke="#e6e6e6" stroke-width="0.9"/>
<rect x="539.6" y="132.4" width="2.9" height="8.2" fill="#ffffff"/>
<line x1="545.16" y1="114.8" x2="545.16" y2="134.9" stroke="#e6e6e6" stroke-width="0.9"/>
<rect x="543.71" y="128" width="2.9" height="5" fill="#ffffff"/>
<line x1="549.26" y1="109.1" x2="549.26" y2="135.8" stroke="#e6e6e6" stroke-width="0.9"/>
<rect x="547.81" y="126.7" width="2.9" height="1" fill="#ffffff"/>
<line x1="553.37" y1="122" x2="553.37" y2="140.6" stroke="#e6e6e6" stroke-width="0.9"/>
<rect x="551.92" y="123" width="2.9" height="4.4" fill="#ffffff"/>
<line x1="557.47" y1="122.7" x2="557.47" y2="164.3" stroke="#e57a1c" stroke-width="0.9"/>
<rect x="556.02" y="123" width="2.9" height="34.4" fill="#f5821e"/>
<line x1="561.58" y1="150.8" x2="561.58" y2="174" stroke="#e57a1c" stroke-width="0.9"/>
<rect x="560.13" y="156.7" width="2.9" height="7.6" fill="#f5821e"/>
<line x1="565.69" y1="134.3" x2="565.69" y2="171.2" stroke="#e6e6e6" stroke-width="0.9"/>
<rect x="564.24" y="140.6" width="2.9" height="23.7" fill="#ffffff"/>
<line x1="569.79" y1="106.6" x2="569.79" y2="143.6" stroke="#e6e6e6" stroke-width="0.9"/>
<rect x="568.34" y="118.2" width="2.9" height="23.7" fill="#ffffff"/>
<line x1="573.9" y1="93" x2="573.9" y2="122" stroke="#e6e6e6" stroke-width="0.9"/>
<rect x="572.45" y="106" width="2.9" height="12.6" fill="#ffffff"/>
<line x1="578" y1="105.4" x2="578" y2="131.8" stroke="#e57a1c" stroke-width="0.9"/>
<rect x="576.55" y="106" width="2.9" height="21.4" fill="#f5821e"/>
<line x1="582.11" y1="117.9" x2="582.11" y2="142.5" stroke="#e57a1c" stroke-width="0.9"/>
<rect x="580.66" y="126.7" width="2.9" height="9.1" fill="#f5821e"/>
<line x1="586.22" y1="133.7" x2="586.22" y2="155.5" stroke="#e57a1c" stroke-width="0.9"/>
<rect x="584.77" y="134.9" width="2.9" height="9.5" fill="#f5821e"/>
<line x1="590.32" y1="118.9" x2="590.32" y2="151.7" stroke="#e57a1c" stroke-width="0.9"/>
<rect x="588.87" y="143.9" width="2.9" height="6.3" fill="#f5821e"/>
<line x1="594.43" y1="143.9" x2="594.43" y2="166.8" stroke="#e57a1c" stroke-width="0.9"/>
<rect x="592.98" y="149.2" width="2.9" height="12.9" fill="#f5821e"/>
<line x1="598.53" y1="157.1" x2="598.53" y2="181.3" stroke="#e57a1c" stroke-width="0.9"/>
<rect x="597.08" y="161.8" width="2.9" height="14.2" fill="#f5821e"/>
<line x1="602.64" y1="149.2" x2="602.64" y2="179" stroke="#e6e6e6" stroke-width="0.9"/>
<rect x="601.19" y="153" width="2.9" height="22.9" fill="#ffffff"/>
<line x1="606.75" y1="143.9" x2="606.75" y2="156.1" stroke="#e6e6e6" stroke-width="0.9"/>
<rect x="605.3" y="150.1" width="2.9" height="3.5" fill="#ffffff"/>
<line x1="610.85" y1="148" x2="610.85" y2="168.1" stroke="#e57a1c" stroke-width="0.9"/>
<rect x="609.4" y="149.6" width="2.9" height="14.8" fill="#f5821e"/>
<line x1="614.96" y1="151.2" x2="614.96" y2="170.7" stroke="#e6e6e6" stroke-width="0.9"/>
<rect x="613.51" y="157.7" width="2.9" height="6.3" fill="#ffffff"/>
<line x1="619.06" y1="138.6" x2="619.06" y2="160.6" stroke="#e6e6e6" stroke-width="0.9"/>
<rect x="617.61" y="139.8" width="2.9" height="18.3" fill="#ffffff"/>
<line x1="623.17" y1="130" x2="623.17" y2="145.1" stroke="#e6e6e6" stroke-width="0.9"/>
<rect x="621.72" y="137.1" width="2.9" height="2.5" fill="#ffffff"/>
<line x1="627.28" y1="128.2" x2="627.28" y2="138.7" stroke="#e6e6e6" stroke-width="0.9"/>
<rect x="625.83" y="132.5" width="2.9" height="5.4" fill="#ffffff"/>
<line x1="631.38" y1="126.3" x2="631.38" y2="144.9" stroke="#e57a1c" stroke-width="0.9"/>
<rect x="629.93" y="132.5" width="2.9" height="8" fill="#f5821e"/>
<line x1="635.49" y1="128.3" x2="635.49" y2="158.5" stroke="#e57a1c" stroke-width="0.9"/>
<rect x="634.04" y="139.9" width="2.9" height="15.3" fill="#f5821e"/>
<line x1="639.6" y1="135.1" x2="639.6" y2="156.8" stroke="#e6e6e6" stroke-width="0.9"/>
<rect x="638.15" y="138.9" width="2.9" height="16.3" fill="#ffffff"/>
<line x1="643.7" y1="130.8" x2="643.7" y2="143.9" stroke="#e6e6e6" stroke-width="0.9"/>
<rect x="642.25" y="132.3" width="2.9" height="6.9" fill="#ffffff"/>
<line x1="647.81" y1="121.6" x2="647.81" y2="158.1" stroke="#e57a1c" stroke-width="0.9"/>
<rect x="646.36" y="132.3" width="2.9" height="20.4" fill="#f5821e"/>
<line x1="651.91" y1="141.1" x2="651.91" y2="161.9" stroke="#e57a1c" stroke-width="0.9"/>
<rect x="650.46" y="152.7" width="2.9" height="1.3" fill="#f5821e"/>
<line x1="656.02" y1="145.2" x2="656.02" y2="154" stroke="#e6e6e6" stroke-width="0.9"/>
<rect x="654.57" y="148" width="2.9" height="6" fill="#ffffff"/>
<line x1="660.13" y1="139.2" x2="660.13" y2="150.2" stroke="#e57a1c" stroke-width="0.9"/>
<rect x="658.68" y="147.7" width="2.9" height="1" fill="#f5821e"/>
<line x1="664.23" y1="147.2" x2="664.23" y2="165" stroke="#e57a1c" stroke-width="0.9"/>
<rect x="662.78" y="148.7" width="2.9" height="8.8" fill="#f5821e"/>
<line x1="668.34" y1="154" x2="668.34" y2="174.5" stroke="#e57a1c" stroke-width="0.9"/>
<rect x="666.89" y="156.8" width="2.9" height="17" fill="#f5821e"/>
<line x1="672.44" y1="159.4" x2="672.44" y2="176.6" stroke="#e6e6e6" stroke-width="0.9"/>
<rect x="670.99" y="161" width="2.9" height="12.8" fill="#ffffff"/>
<line x1="676.55" y1="158.7" x2="676.55" y2="171.9" stroke="#e57a1c" stroke-width="0.9"/>
<rect x="675.1" y="161" width="2.9" height="7.8" fill="#f5821e"/>
<line x1="680.66" y1="140.5" x2="680.66" y2="177.6" stroke="#e6e6e6" stroke-width="0.9"/>
<rect x="679.21" y="142.6" width="2.9" height="26.2" fill="#ffffff"/>
<line x1="684.76" y1="142.4" x2="684.76" y2="154.7" stroke="#e57a1c" stroke-width="0.9"/>
<rect x="683.31" y="143" width="2.9" height="3.8" fill="#f5821e"/>
<line x1="688.87" y1="138.6" x2="688.87" y2="158.7" stroke="#e57a1c" stroke-width="0.9"/>
<rect x="687.42" y="146.8" width="2.9" height="6.3" fill="#f5821e"/>
<line x1="692.97" y1="150.2" x2="692.97" y2="179" stroke="#e57a1c" stroke-width="0.9"/>
<rect x="691.52" y="152.7" width="2.9" height="22.5" fill="#f5821e"/>
<line x1="697.08" y1="156.7" x2="697.08" y2="175.6" stroke="#e6e6e6" stroke-width="0.9"/>
<rect x="695.63" y="160.8" width="2.9" height="14.5" fill="#ffffff"/>
<line x1="701.19" y1="158" x2="701.19" y2="166.3" stroke="#e57a1c" stroke-width="0.9"/>
<rect x="699.74" y="160.8" width="2.9" height="5.3" fill="#f5821e"/>
<line x1="705.29" y1="160" x2="705.29" y2="168.4" stroke="#e6e6e6" stroke-width="0.9"/>
<rect x="703.84" y="163.6" width="2.9" height="2.7" fill="#ffffff"/>
<line x1="709.4" y1="161.9" x2="709.4" y2="183.3" stroke="#e57a1c" stroke-width="0.9"/>
<rect x="707.95" y="163.6" width="2.9" height="14.8" fill="#f5821e"/>
<line x1="713.51" y1="175.6" x2="713.51" y2="188" stroke="#e57a1c" stroke-width="0.9"/>
<rect x="712.06" y="178" width="2.9" height="3" fill="#f5821e"/>
<line x1="717.61" y1="176" x2="717.61" y2="190.2" stroke="#e57a1c" stroke-width="0.9"/>
<rect x="716.16" y="180.5" width="2.9" height="9.3" fill="#f5821e"/>
<line x1="721.72" y1="183" x2="721.72" y2="200.9" stroke="#e57a1c" stroke-width="0.9"/>
<rect x="720.27" y="188.9" width="2.9" height="7.2" fill="#f5821e"/>
<line x1="725.82" y1="186.4" x2="725.82" y2="199.6" stroke="#e6e6e6" stroke-width="0.9"/>
<rect x="724.37" y="187.3" width="2.9" height="8.8" fill="#ffffff"/>
<line x1="729.93" y1="183" x2="729.93" y2="191.4" stroke="#e57a1c" stroke-width="0.9"/>
<rect x="728.48" y="187" width="2.9" height="2.8" fill="#f5821e"/>
<line x1="734.04" y1="187.7" x2="734.04" y2="199.9" stroke="#e57a1c" stroke-width="0.9"/>
<rect x="732.59" y="188.9" width="2.9" height="8.4" fill="#f5821e"/>
<line x1="738.14" y1="182.2" x2="738.14" y2="198.1" stroke="#e6e6e6" stroke-width="0.9"/>
<rect x="736.69" y="190.8" width="2.9" height="6.5" fill="#ffffff"/>
<line x1="742.25" y1="188.5" x2="742.25" y2="196.8" stroke="#e57a1c" stroke-width="0.9"/>
<rect x="740.8" y="190.5" width="2.9" height="5.6" fill="#f5821e"/>
<line x1="746.35" y1="185.1" x2="746.35" y2="195.8" stroke="#e6e6e6" stroke-width="0.9"/>
<rect x="744.9" y="188.9" width="2.9" height="6.9" fill="#ffffff"/>
<line x1="750.46" y1="178" x2="750.46" y2="190.8" stroke="#e6e6e6" stroke-width="0.9"/>
<rect x="749.01" y="179.7" width="2.9" height="9.2" fill="#ffffff"/>
<line x1="754.57" y1="168.8" x2="754.57" y2="183.3" stroke="#e6e6e6" stroke-width="0.9"/>
<rect x="753.12" y="178.2" width="2.9" height="2.3" fill="#ffffff"/>
<line x1="758.67" y1="166.6" x2="758.67" y2="179.5" stroke="#e6e6e6" stroke-width="0.9"/>
<rect x="757.22" y="169.7" width="2.9" height="9.1" fill="#ffffff"/>
<line x1="762.78" y1="160.6" x2="762.78" y2="170.9" stroke="#e6e6e6" stroke-width="0.9"/>
<rect x="761.33" y="162.9" width="2.9" height="7.5" fill="#ffffff"/>
<line x1="766.88" y1="155.6" x2="766.88" y2="165.9" stroke="#e6e6e6" stroke-width="0.9"/>
<rect x="765.43" y="156.2" width="2.9" height="7.6" fill="#ffffff"/>
<line x1="770.99" y1="144.9" x2="770.99" y2="158.3" stroke="#e6e6e6" stroke-width="0.9"/>
<rect x="769.54" y="152.8" width="2.9" height="3.8" fill="#ffffff"/>
<line x1="775.1" y1="152.4" x2="775.1" y2="166.3" stroke="#e57a1c" stroke-width="0.9"/>
<rect x="773.65" y="152.8" width="2.9" height="9.3" fill="#f5821e"/>
<line x1="779.2" y1="158.7" x2="779.2" y2="175.1" stroke="#e57a1c" stroke-width="0.9"/>
<rect x="777.75" y="161.2" width="2.9" height="5.4" fill="#f5821e"/>
<line x1="783.31" y1="162.9" x2="783.31" y2="173.2" stroke="#e6e6e6" stroke-width="0.9"/>
<rect x="781.86" y="165" width="2.9" height="1.9" fill="#ffffff"/>
<line x1="787.42" y1="155.8" x2="787.42" y2="172.2" stroke="#e6e6e6" stroke-width="0.9"/>
<rect x="785.97" y="158.7" width="2.9" height="6.9" fill="#ffffff"/>
<line x1="791.52" y1="147.8" x2="791.52" y2="160.9" stroke="#e6e6e6" stroke-width="0.9"/>
<rect x="790.07" y="155.3" width="2.9" height="4.1" fill="#ffffff"/>
<line x1="795.63" y1="150.8" x2="795.63" y2="167.9" stroke="#e57a1c" stroke-width="0.9"/>
<rect x="794.18" y="155.3" width="2.9" height="9.3" fill="#f5821e"/>
<line x1="799.73" y1="154.1" x2="799.73" y2="165.9" stroke="#e6e6e6" stroke-width="0.9"/>
<rect x="798.28" y="160" width="2.9" height="5" fill="#ffffff"/>
<line x1="803.84" y1="158.7" x2="803.84" y2="170.9" stroke="#e57a1c" stroke-width="0.9"/>
<rect x="802.39" y="160" width="2.9" height="10.9" fill="#f5821e"/>
<line x1="807.95" y1="169.2" x2="807.95" y2="201.4" stroke="#e57a1c" stroke-width="0.9"/>
<rect x="806.5" y="170" width="2.9" height="16" fill="#f5821e"/>
<line x1="812.05" y1="181" x2="812.05" y2="190.5" stroke="#e57a1c" stroke-width="0.9"/>
<rect x="810.6" y="185.1" width="2.9" height="4.6" fill="#f5821e"/>
<line x1="816.16" y1="179.7" x2="816.16" y2="193" stroke="#e6e6e6" stroke-width="0.9"/>
<rect x="814.71" y="186.6" width="2.9" height="3.1" fill="#ffffff"/>
<line x1="820.26" y1="185.1" x2="820.26" y2="208.1" stroke="#e57a1c" stroke-width="0.9"/>
<rect x="818.81" y="186.4" width="2.9" height="19.2" fill="#f5821e"/>
<line x1="824.37" y1="193" x2="824.37" y2="208.8" stroke="#e6e6e6" stroke-width="0.9"/>
<rect x="822.92" y="195.2" width="2.9" height="10.4" fill="#ffffff"/>
<line x1="828.48" y1="195.2" x2="828.48" y2="199" stroke="#e57a1c" stroke-width="0.9"/>
<rect x="827.03" y="195.2" width="2.9" height="3.8" fill="#f5821e"/>
<line x1="832.58" y1="192.2" x2="832.58" y2="204.7" stroke="#e6e6e6" stroke-width="0.9"/>
<rect x="831.13" y="193.7" width="2.9" height="5.3" fill="#ffffff"/>
<line x1="836.69" y1="188" x2="836.69" y2="199" stroke="#e6e6e6" stroke-width="0.9"/>
<rect x="835.24" y="192.7" width="2.9" height="1" fill="#ffffff"/>
<line x1="840.79" y1="190.9" x2="840.79" y2="195.2" stroke="#e57a1c" stroke-width="0.9"/>
<rect x="839.34" y="192.7" width="2.9" height="1.2" fill="#f5821e"/>
<line x1="-0.43" y1="193.1" x2="921" y2="193.1" stroke="#ff9800" stroke-width="0.9" stroke-opacity="0.75" stroke-dasharray="1.2 2.8925" stroke-dashoffset="0"/>
<line x1="0.2" y1="179" x2="0.2" y2="221" stroke="#8a4a0c" stroke-width="0.8"/>
<g transform="translate(841,405.9)"><circle cx="0" cy="0" r="6.7" fill="#131313" stroke="#ab47bc" stroke-width="1.1"/><path d="M1.5,-3.7 L-2.7,0.7 L-0.4,0.7 L-1.5,3.7 L2.7,-0.7 L0.4,-0.7 Z" fill="#c050d8" stroke="#c050d8" stroke-width="0.5" stroke-linejoin="round"/><circle cx="4.6" cy="-4.4" r="2.6" fill="#000"/><circle cx="4.6" cy="-4.4" r="1.9" fill="#f23645"/></g>
</svg>
<div id="vax"></div><div id="hax"></div>
<div class="lg" style="left:5.1px;top:4.4px;transform:scaleX(0.941)">Hedera Hashgraph / TetherUS · 1D · Binance</div>
<div class="lg" style="left:171.8px;top:4.4px;letter-spacing:-0.1px;transform:scaleX(0.941)">O<b>0.21676</b></div>
<div class="lg" style="left:210.3px;top:4.4px;letter-spacing:-0.1px;transform:scaleX(0.941)">H<b>0.21784</b></div>
<div class="lg" style="left:248.9px;top:4.4px;letter-spacing:-0.1px;transform:scaleX(0.941)">L<b>0.21462</b></div>
<div class="lg" style="left:286.4px;top:4.4px;letter-spacing:-0.1px;transform:scaleX(0.941)">C<b>0.21622</b></div>
<div class="lg" style="left:325px;top:4.4px;transform:scaleX(0.923)"><b>−0.00054 (−0.25%)</b></div>
<div class="lg" style="left:395.7px;top:4.4px;transform:scaleX(0.911)">Vol<b>27.33 M</b></div>
<div class="lg" style="left:5.1px;top:15.5px;transform:scaleX(0.885)">Vol · HBAR</div>
<div class="lg" style="left:48.6px;top:15.5px;transform:scaleX(0.899)"><i>27.33 M</i></div>
<div id="usdt"><span class="sx" style="transform:scaleX(0.83)">USDT</span></div>
<div class="pl" style="top:23.25px">0.38000</div>
<div class="pl" style="top:55.25px">0.34000</div>
<div class="pl" style="top:91.75px">0.30000</div>
<div class="pl" style="top:122.5px">0.27000</div>
<div class="pl" style="top:145px">0.25000</div>
<div class="pl" style="top:169.3px">0.23000</div>
<div class="pl" style="top:224.9px">0.19000</div>
<div class="pl" style="top:248.3px">0.17500</div>
<div class="pl" style="top:275.1px">0.16000</div>
<div class="pl" style="top:303.1px">0.14500</div>
<div class="pl" style="top:324.3px">0.13500</div>
<div class="pl" style="top:346.5px">0.12500</div>
<div class="pl" style="top:371px">0.11500</div>
<div class="pl" style="top:392.1px">0.10700</div>
<div class="ml" style="left:78.1px">Apr</div>
<div class="ml" style="left:201.4px">May</div>
<div class="ml" style="left:328.7px">Jun</div>
<div class="ml" style="left:452px">Jul</div>
<div class="ml" style="left:579.3px">Aug</div>
<div class="ml" style="left:706.6px">Sep</div>
<div class="ml" style="left:829.9px">Oct</div>
<div id="sym"><span class="sx" style="transform:scaleX(0.862)">HBARUSDT</span></div>
<div id="prc"><span>0.21622</span><span class="sx" style="transform:scaleX(0.895)">−4.76%</span><span class="t">19:21:03</span></div>
</div>
<svg id="logo" width="21" height="11" viewBox="0 0 21 11"><path d="M0,0 H8.2 V10.4 H4.1 V4.8 H0 Z" fill="#d9d9d9"/><circle cx="11" cy="2.3" r="1.8" fill="#d9d9d9"/><path d="M14.3,0 H19.8 L16.4,10.4 H11.3 Z" fill="#d9d9d9"/></svg>
<div id="ltxt">TradingView</div>
</body></html>
